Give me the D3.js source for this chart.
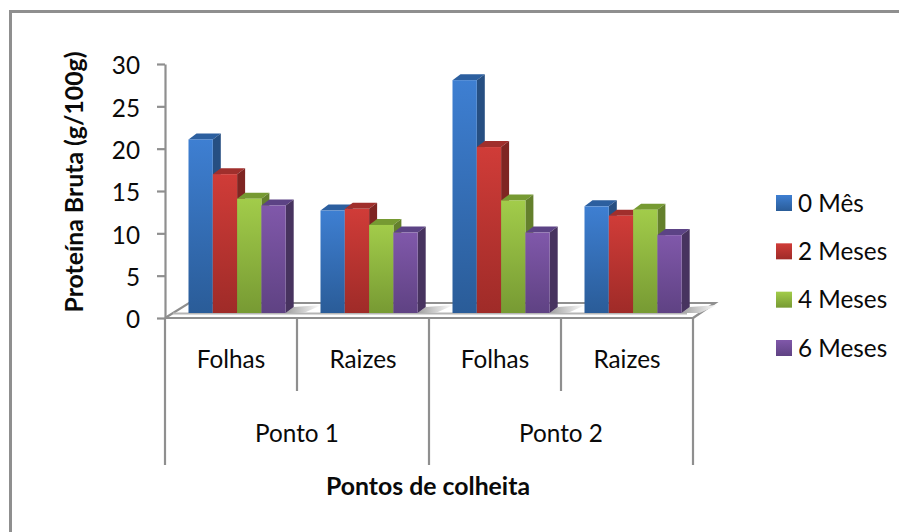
<!DOCTYPE html>
<html>
<head>
<meta charset="utf-8">
<title></title>
<style>
html, body { margin: 0; padding: 0; background: #fff; }
svg { display: block; }
text { font-family: Lato, "Open Sans", sans-serif; fill: #0a0a0a; }
.lbl { font-size: 24.3px; }
.ttl { font-size: 24.8px; font-weight: bold; }
.axis path, .axis line, .sep, .floor { stroke: #8f8f8f; stroke-width: 2.2px; fill: none; }
</style>
</head>
<body>
<script src="https://cdn.jsdelivr.net/npm/d3@7"></script>
<script>
var categories = ["Folhas", "Raizes", "Folhas", "Raizes"];
var pontos = ["Ponto 1", "Ponto 2"];
var series = ["0 Mês", "2 Meses", "4 Meses", "6 Meses"];
var mes0 = [20.5, 12.1, 27.5, 12.6];
var mes2 = [16.4, 12.3, 19.6, 11.5];
var mes4 = [13.5, 10.4, 13.3, 12.2];
var mes6 = [12.7, 9.5, 9.5, 9.2];
var yTicks = [0, 5, 10, 15, 20, 25, 30];

var values = [mes0, mes2, mes4, mes6];
var colors = [
  {hi: "#3e7fd2", lo: "#2a5c98", side: "#264f82", top: "#2c5f9f"},
  {hi: "#d03c38", lo: "#9f2b28", side: "#7f2522", top: "#a02f2c"},
  {hi: "#a2cc4a", lo: "#779a33", side: "#64802c", top: "#769a32"},
  {hi: "#8058aa", lo: "#5f4283", side: "#47335f", top: "#5c4385"}
];

var width = 899, height = 532;
var svg = d3.select("body").append("svg").attr("width", width).attr("height", height);

var left = 165, right = 693, y0 = 318, yTop = 64;
var lift = 5;            // bars stand on the floor, above the axis line
var depthX = 8, depthY = 6;    // bar depth
var floorX = 22, floorY = 15;  // floor depth

var x = d3.scaleBand().domain(d3.range(categories.length)).range([left, right]);
var y = d3.scaleLinear().domain([0, 30]).range([y0, yTop]);
var barW = 24.3;
var inner = d3.scaleBand().domain(d3.range(series.length)).range([23.5, 23.5 + barW * series.length]);

// gradients
var defs = svg.append("defs");
colors.forEach(function(c, i) {
  var g = defs.append("linearGradient").attr("id", "grad" + i)
      .attr("x1", 0).attr("y1", 0).attr("x2", 0).attr("y2", 1);
  g.append("stop").attr("offset", "0%").attr("stop-color", c.hi);
  g.append("stop").attr("offset", "100%").attr("stop-color", c.lo);
});
var sg = defs.append("linearGradient").attr("id", "shadow");
sg.append("stop").attr("offset", "0%").attr("stop-color", "#a0a0a0");
sg.append("stop").attr("offset", "100%").attr("stop-color", "#ffffff");

// outer frame, only top and left are visible
svg.append("path").attr("d", d3.line()([[width, 11.5], [10.5, 11.5], [10.5, height]]))
    .attr("fill", "none").attr("stroke", "#8f8f8f").attr("stroke-width", 3);

// floor
var baseY = y(0) - lift;
svg.append("path").attr("class", "floor")
    .attr("d", d3.line()([[left, y0], [left + floorX + 2, y0 - floorY], [right + floorX, y0 - floorY], [right, y0]]));
svg.append("line").attr("class", "sep").style("stroke", "#b5b5b5")
    .attr("x1", left + 8).attr("x2", right - 6).attr("y1", baseY + 0.5).attr("y2", baseY + 0.5);

// shadows on the floor
svg.append("g").selectAll("path").data(categories).enter().append("path")
    .attr("fill", "url(#shadow)")
    .attr("d", function(d, i) {
      var r = x(i) + inner(3) + barW;
      return d3.line()([[r, baseY], [r + depthX, baseY - depthY], [r + 36, baseY - depthY - 2], [r + 18, baseY]]);
    });

// bars, left to right so each front hides the side of the one before
var group = svg.append("g").selectAll("g").data(categories).enter().append("g")
    .attr("transform", function(d, i) { return "translate(" + x(i) + ",0)"; });

group.each(function(d, i) {
  var g = d3.select(this);
  series.forEach(function(s, j) {
    var bx = inner(j), by = y(values[j][i]) - lift;
    g.append("path").attr("fill", colors[j].top)
        .attr("d", d3.line()([[bx, by], [bx + depthX, by - depthY], [bx + barW + depthX, by - depthY], [bx + barW, by]]));
    g.append("path").attr("fill", colors[j].side)
        .attr("d", d3.line()([[bx + barW, by], [bx + barW + depthX, by - depthY], [bx + barW + depthX, baseY - depthY], [bx + barW, baseY]]));
    g.append("rect").attr("x", bx).attr("y", by).attr("width", barW).attr("height", baseY - by)
        .attr("fill", "url(#grad" + j + ")");
  });
});

// value axis
var yAxis = d3.axisLeft(y).tickValues(yTicks).tickSize(8).tickSizeOuter(0).tickPadding(17);
var ya = svg.append("g").attr("class", "axis").attr("transform", "translate(" + left + ",0)").call(yAxis);
ya.selectAll("text").attr("class", "lbl").attr("dy", "0.4em").style("font-family", null).style("font-size", null);
ya.attr("font-size", null).attr("font-family", null);

// category axis line and separators
svg.append("line").attr("class", "sep").attr("x1", left).attr("x2", right).attr("y1", y0).attr("y2", y0);
svg.append("g").selectAll("line").data(d3.range(categories.length + 1)).enter().append("line")
    .attr("class", "sep")
    .attr("x1", function(d) { return left + d * x.bandwidth(); })
    .attr("x2", function(d) { return left + d * x.bandwidth(); })
    .attr("y1", y0)
    .attr("y2", function(d) { return d % 2 == 0 ? 465 : 391; });

svg.append("g").selectAll("text").data(categories).enter().append("text")
    .attr("class", "lbl").attr("text-anchor", "middle")
    .attr("x", function(d, i) { return x(i) + x.bandwidth() / 2; })
    .attr("y", 368)
    .text(function(d) { return d; });

svg.append("g").selectAll("text").data(pontos).enter().append("text")
    .attr("class", "lbl").attr("text-anchor", "middle")
    .attr("x", function(d, i) { return x(i * 2) + x.bandwidth(); })
    .attr("y", 442)
    .text(function(d) { return d; });

// titles
svg.append("text").attr("class", "ttl").attr("text-anchor", "middle")
    .attr("x", 428).attr("y", 495).text("Pontos de colheita");
svg.append("text").attr("class", "ttl").attr("text-anchor", "middle")
    .attr("transform", "translate(83,182) rotate(-90)").text("Proteína Bruta (g/100g)");

// legend
var legendY = d3.scalePoint().domain(series).range([203, 348]);
var legend = svg.append("g").selectAll("g").data(series).enter().append("g")
    .attr("transform", function(d) { return "translate(776," + legendY(d) + ")"; });
legend.append("rect").attr("y", -8).attr("width", 16).attr("height", 16)
    .attr("fill", function(d, i) { return "url(#grad" + i + ")"; });
legend.append("text").attr("class", "lbl").attr("x", 22).attr("dy", "0.36em")
    .text(function(d) { return d; });
</script>
</body>
</html>
